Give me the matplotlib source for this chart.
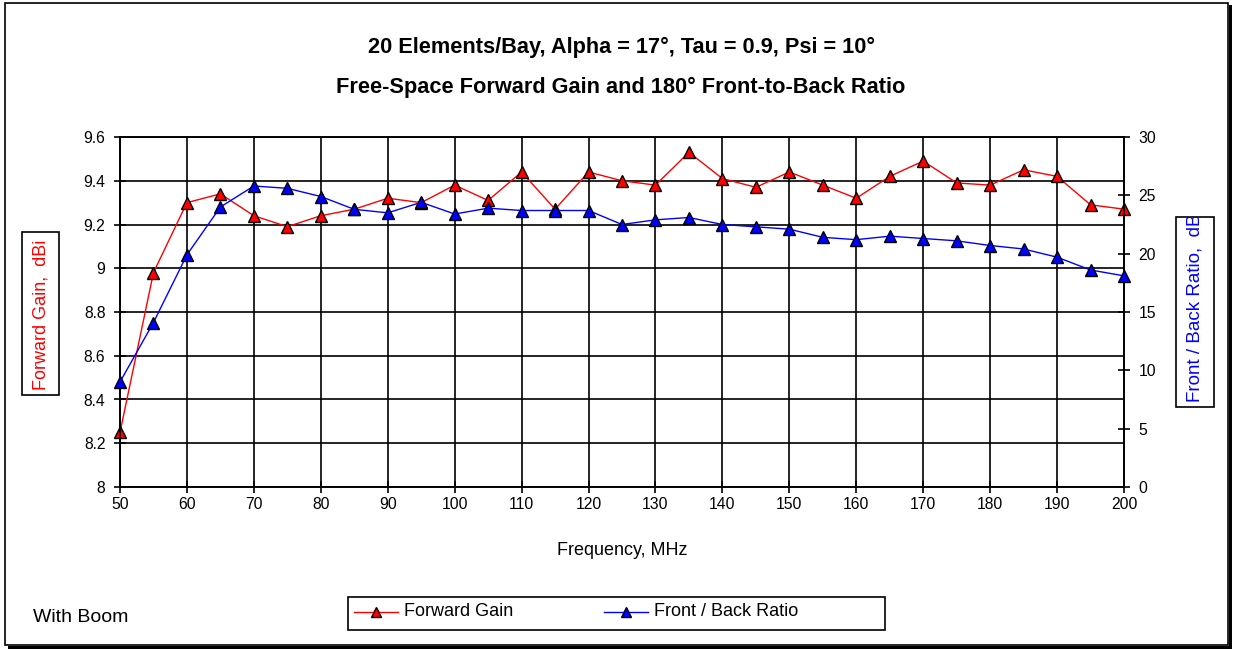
import matplotlib
matplotlib.use("Agg")
import matplotlib.pyplot as plt
from matplotlib.lines import Line2D
from matplotlib.patches import Rectangle
from matplotlib.transforms import Bbox

plt.rcParams['font.family'] = ['Liberation Sans', 'DejaVu Sans']

freq_mhz = [50, 55, 60, 65, 70, 75, 80, 85, 90, 95, 100, 105, 110, 115, 120,
            125, 130, 135, 140, 145, 150, 155, 160, 165, 170, 175, 180, 185,
            190, 195, 200]
forward_gain = [8.25, 8.98, 9.30, 9.34, 9.24, 9.19, 9.24, 9.27, 9.32, 9.30,
                9.38, 9.31, 9.44, 9.27, 9.44, 9.40, 9.38, 9.53, 9.41, 9.37,
                9.44, 9.38, 9.32, 9.42, 9.49, 9.39, 9.38, 9.45, 9.42, 9.29,
                9.27]
front_back = [9.0, 14.1, 19.9, 24.0, 25.8, 25.6, 24.9, 23.8, 23.5, 24.4, 23.4,
              23.9, 23.7, 23.7, 23.7, 22.5, 22.9, 23.1, 22.5, 22.3, 22.1, 21.4,
              21.2, 21.5, 21.3, 21.1, 20.7, 20.4, 19.7, 18.6, 18.1]
x_tick_labels = [str(v) for v in range(50, 201, 10)]
gain_ticks = [8, 8.2, 8.4, 8.6, 8.8, 9, 9.2, 9.4, 9.6]
gain_tick_labels = ['8', '8.2', '8.4', '8.6', '8.8', '9', '9.2', '9.4', '9.6']
fb_ticks = [0, 5, 10, 15, 20, 25, 30]
series_names = ['Forward Gain', 'Front / Back Ratio']

W, H = 1233, 649
fig = plt.figure(figsize=(W / 100, H / 100), dpi=100)
fig.patch.set_facecolor('white')


def fx(px):
    return px / W


def fy(py):
    return 1 - py / H


# outer chart frame with a drop shadow
fig.add_artist(Rectangle((fx(5), fy(645)), 1223 / W, 642 / H, transform=fig.transFigure,
                         fill=False, edgecolor='black', linewidth=1.2))
fig.add_artist(Rectangle((fx(1229), 0), 3 / W, 644 / H, transform=fig.transFigure,
                         facecolor='black', edgecolor='none'))
fig.add_artist(Rectangle((fx(8), 0), 1224 / W, 3 / H, transform=fig.transFigure,
                         facecolor='black', edgecolor='none'))

left, right, top, bottom = 120, 1124, 137, 487
ax = fig.add_axes([fx(left), fy(bottom), (right - left) / W, (bottom - top) / H])
ax2 = ax.twinx()

red, blue = '#ff0000', '#0000ff'
line_kw = dict(linewidth=1.0, marker='^', markersize=8, markeredgecolor='black',
               markeredgewidth=1.0)
ax.plot(freq_mhz, forward_gain, color=red, markerfacecolor=red,
        zorder=4, clip_on=False, **line_kw)
ax2.plot(freq_mhz, front_back, color=blue, markerfacecolor=blue,
         zorder=4, clip_on=False, **line_kw)

ax.set_xlim(50, 200)
ax.set_ylim(8, 9.6)
ax2.set_ylim(0, 30)
ax.set_xticks(range(50, 201, 10))
ax.set_xticklabels(x_tick_labels)
ax.set_yticks(gain_ticks)
ax.set_yticklabels(gain_tick_labels)
ax2.set_yticks(fb_ticks)

ax.grid(True, color='black', linewidth=1.2)
ax.set_axisbelow(True)
for a in (ax, ax2):
    for s in a.spines.values():
        s.set_color('black')
        s.set_linewidth(1.2)
    a.tick_params(direction='inout', length=9, width=1.2, labelsize=11.3,
                  colors='black')
ax.tick_params(axis='x', pad=3)
ax.tick_params(axis='y', pad=6)
ax2.tick_params(axis='y', pad=6)

ax.set_xlabel('Frequency, MHz', fontsize=13, labelpad=21)

fig.text(fx(621), fy(47), '20 Elements/Bay, Alpha = 17°, Tau = 0.9, Psi = 10°',
         ha='center', va='center', fontsize=15.7, fontweight='bold')
fig.text(fx(621), fy(87), 'Free-Space Forward Gain and 180° Front-to-Back Ratio',
         ha='center', va='center', fontsize=15.7, fontweight='bold')


# boxed axis titles (text clipped to its box)
def boxed_title(x0, y_top, y_bot, w, text, color, size):
    fig.add_artist(Rectangle((fx(x0), fy(y_bot)), w / W, (y_bot - y_top) / H,
                             transform=fig.transFigure, fill=False,
                             edgecolor='black', linewidth=1.2))
    t = fig.text(fx(x0 + w / 2), fy(y_bot - 5), text, rotation=90,
                 rotation_mode='anchor', ha='left', va='center', color=color,
                 fontsize=size)
    t.set_clip_box(Bbox.from_extents(x0, H - y_bot, x0 + w, H - y_top))
    t.set_clip_on(True)


boxed_title(22, 232, 395, 37, 'Forward Gain,  dBi', red, 13)
boxed_title(1176, 217, 407, 38, 'Front / Back Ratio,  dB', blue, 13.5)

fig.text(fx(33), fy(617), 'With Boom', ha='left', va='center', fontsize=14)

# legend box drawn in figure pixels
fig.add_artist(Rectangle((fx(348), fy(630)), 537 / W, 33 / H, transform=fig.transFigure,
                         fill=False, edgecolor='black', linewidth=1.2))
for (x0, name, col) in [(354, series_names[0], red), (604, series_names[1], blue)]:
    fig.add_artist(Line2D([fx(x0), fx(x0 + 44)], [fy(612), fy(612)],
                          transform=fig.transFigure, color=col, linewidth=1.0))
    fig.add_artist(Line2D([fx(x0 + 22)], [fy(612)], transform=fig.transFigure,
                          marker='^', markersize=7, markerfacecolor=col,
                          markeredgecolor='black', markeredgewidth=1.0,
                          linestyle='none'))
    fig.text(fx(x0 + 50), fy(612), name, ha='left', va='center', fontsize=13)

fig.savefig('out.png', dpi=100, facecolor='white')
